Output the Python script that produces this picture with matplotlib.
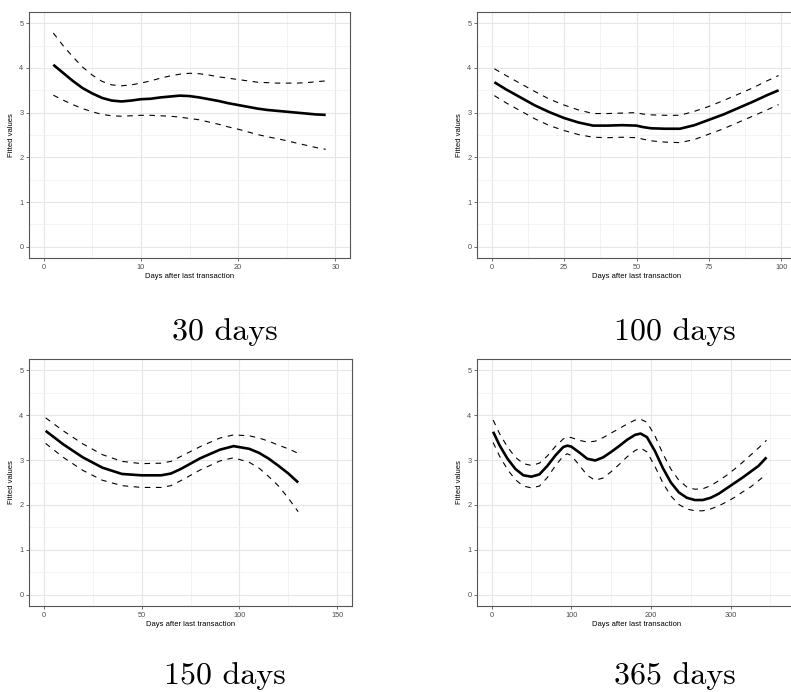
import matplotlib
matplotlib.use('Agg')
import matplotlib.pyplot as plt
from matplotlib.ticker import MultipleLocator

plt.rcParams['font.family'] = ['Liberation Sans', 'DejaVu Sans']

# 30-day window
d30_x = [1, 2, 3, 4, 5, 6, 7, 8, 9, 10, 11, 12, 13, 14, 15, 16, 17, 18, 19, 20,
         21, 22, 23, 24, 25, 26, 27, 28, 29]
d30_fit = [4.07, 3.89, 3.71, 3.55, 3.43, 3.33, 3.27, 3.25, 3.27, 3.30, 3.31, 3.34,
           3.36, 3.38, 3.37, 3.34, 3.30, 3.26, 3.21, 3.17, 3.13, 3.09, 3.06, 3.04,
           3.02, 3.00, 2.98, 2.96, 2.95]
d30_hi = [4.78, 4.50, 4.25, 4.02, 3.84, 3.70, 3.62, 3.60, 3.62, 3.66, 3.71, 3.77,
          3.82, 3.86, 3.88, 3.87, 3.84, 3.80, 3.77, 3.74, 3.71, 3.68, 3.67, 3.66,
          3.66, 3.66, 3.67, 3.69, 3.71]
d30_lo = [3.39, 3.28, 3.18, 3.09, 3.02, 2.96, 2.93, 2.92, 2.93, 2.94, 2.94, 2.93,
          2.92, 2.90, 2.87, 2.84, 2.79, 2.74, 2.68, 2.63, 2.57, 2.51, 2.46, 2.42,
          2.37, 2.32, 2.27, 2.22, 2.18]

# 100-day window
d100_x = [1, 5, 10, 15, 20, 25, 30, 35, 40, 45, 50, 52, 55, 60, 65, 70, 75, 80,
          85, 90, 95, 99]
d100_fit = [3.68, 3.52, 3.34, 3.16, 3.01, 2.88, 2.78, 2.71, 2.71, 2.72, 2.71, 2.68,
            2.65, 2.64, 2.64, 2.72, 2.84, 2.96, 3.10, 3.24, 3.39, 3.50]
d100_hi = [3.98, 3.83, 3.65, 3.47, 3.30, 3.17, 3.06, 2.98, 2.98, 2.99, 3.00, 2.97,
           2.95, 2.94, 2.94, 3.03, 3.14, 3.27, 3.41, 3.55, 3.71, 3.83]
d100_lo = [3.38, 3.22, 3.04, 2.86, 2.71, 2.60, 2.51, 2.45, 2.44, 2.45, 2.44, 2.41,
           2.37, 2.34, 2.33, 2.40, 2.52, 2.64, 2.78, 2.92, 3.06, 3.18]

# 150-day window
d150_x = [1, 10, 20, 30, 40, 50, 60, 65, 70, 80, 90, 97, 105, 110, 115, 120, 125, 130]
d150_fit = [3.65, 3.35, 3.06, 2.83, 2.69, 2.66, 2.66, 2.70, 2.80, 3.04, 3.23, 3.31,
            3.25, 3.16, 3.03, 2.87, 2.70, 2.50]
d150_hi = [3.94, 3.65, 3.36, 3.12, 2.97, 2.92, 2.93, 2.97, 3.08, 3.30, 3.49, 3.56,
           3.54, 3.49, 3.42, 3.33, 3.25, 3.15]
d150_lo = [3.37, 3.06, 2.77, 2.55, 2.43, 2.39, 2.39, 2.43, 2.54, 2.78, 2.98, 3.05,
           2.95, 2.82, 2.63, 2.42, 2.15, 1.85]

# 365-day window
d365_x = [2, 10, 20, 30, 40, 50, 60, 70, 80, 90, 95, 100, 110, 120, 130, 140, 150,
          160, 170, 180, 187, 195, 205, 215, 225, 235, 245, 255, 265, 275, 285, 295,
          305, 315, 325, 335, 345]
d365_fit = [3.63, 3.33, 3.03, 2.80, 2.66, 2.63, 2.68, 2.87, 3.10, 3.29, 3.32, 3.30,
            3.17, 3.03, 2.99, 3.06, 3.18, 3.31, 3.45, 3.56, 3.59, 3.51, 3.20, 2.82,
            2.50, 2.28, 2.16, 2.11, 2.11, 2.16, 2.25, 2.37, 2.49, 2.61, 2.74, 2.87,
            3.06]
d365_hi = [3.89, 3.59, 3.29, 3.06, 2.92, 2.88, 2.93, 3.09, 3.30, 3.47, 3.51, 3.50,
           3.44, 3.40, 3.42, 3.50, 3.60, 3.70, 3.80, 3.89, 3.91, 3.84, 3.54, 3.14,
           2.80, 2.55, 2.40, 2.35, 2.36, 2.43, 2.54, 2.66, 2.80, 2.95, 3.11, 3.27,
           3.44]
d365_lo = [3.39, 3.09, 2.79, 2.56, 2.42, 2.38, 2.42, 2.61, 2.87, 3.09, 3.14, 3.10,
           2.89, 2.66, 2.55, 2.60, 2.74, 2.90, 3.07, 3.21, 3.27, 3.18, 2.86, 2.49,
           2.20, 2.01, 1.91, 1.87, 1.87, 1.91, 1.98, 2.07, 2.17, 2.29, 2.40, 2.54,
           2.69]

panels = [
    (d30_x, d30_fit, d30_hi, d30_lo, 30, 10, 5, '30 days'),
    (d100_x, d100_fit, d100_hi, d100_lo, 100, 25, 12.5, '100 days'),
    (d150_x, d150_fit, d150_hi, d150_lo, 150, 50, 25, '150 days'),
    (d365_x, d365_fit, d365_hi, d365_lo, 365, 100, 50, '365 days'),
]

W, H = 791, 692
# axes boxes in pixels: left, top, right, bottom
boxes = [
    (29, 12, 350, 258),
    (477, 12, 796, 258),
    (29, 359, 352, 606),
    (477, 359, 797, 606),
]
# each subfigure caption sits under the centre of its half-page column
caption_x = [225, 675, 225, 675]
caption_base = [340, 340, 684, 684]

fig = plt.figure(figsize=(W / 100, H / 100), dpi=100)

for (x, fit, hi, lo, xmax, major, minor, caption), (l, t, r, b), cx, cy in zip(
        panels, boxes, caption_x, caption_base):
    ax = fig.add_axes([l / W, 1 - b / H, (r - l) / W, (b - t) / H])
    pad = xmax * 0.05
    ax.set_xlim(-pad, xmax + pad)
    ax.set_ylim(-0.25, 5.25)

    ax.xaxis.set_major_locator(MultipleLocator(major))
    ax.xaxis.set_minor_locator(MultipleLocator(minor))
    ax.yaxis.set_major_locator(MultipleLocator(1))
    ax.yaxis.set_minor_locator(MultipleLocator(0.5))
    ax.grid(which='major', color='#E6E6E6', linewidth=0.8)
    ax.grid(which='minor', color='#F1F1F1', linewidth=0.6)
    ax.set_axisbelow(True)

    for side in ax.spines.values():
        side.set_color('#555555')
        side.set_linewidth(0.8)
    ax.tick_params(which='major', length=2.0, width=0.5, color='#333333',
                   labelsize=5.3, labelcolor='#4D4D4D', pad=2)
    ax.tick_params(which='minor', length=0)

    ax.plot(x, hi, color='black', linewidth=0.8, linestyle=(0, (5, 5)))
    ax.plot(x, lo, color='black', linewidth=0.8, linestyle=(0, (5, 5)))
    ax.plot(x, fit, color='black', linewidth=1.9, solid_capstyle='butt')

    ax.set_xlabel('Days after last transaction', fontsize=5.5, labelpad=2)
    ax.set_ylabel('Fitted values', fontsize=5.5, labelpad=3)

    fig.text(cx / W, 1 - cy / H, caption, family='cmr10', fontsize=23,
             ha='center', va='baseline')

fig.savefig('out.png', dpi=100)
